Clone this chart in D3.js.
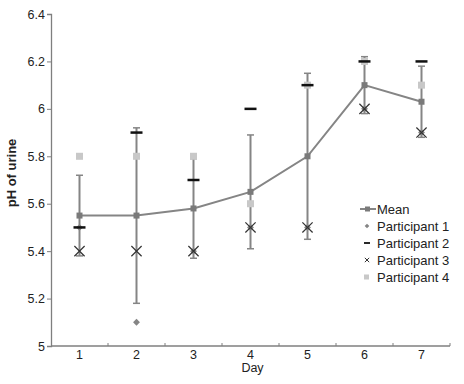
<!DOCTYPE html>
<html>
<head>
<meta charset="utf-8">
<script src="https://cdn.jsdelivr.net/npm/d3@7"></script>
<style>
  body { margin: 0; background: #fff; }
  text { font-family: "Liberation Sans", Arial, sans-serif; }
</style>
</head>
<body>
<div class="chart"></div>
<script>
// values
const days = [1, 2, 3, 4, 5, 6, 7];
const meanPH = [5.55, 5.55, 5.58, 5.65, 5.80, 6.10, 6.03];
const errLow = [5.38, 5.18, 5.37, 5.41, 5.45, 5.98, 5.88];
const errHigh = [5.72, 5.92, 5.79, 5.89, 6.15, 6.22, 6.18];
const p1 = [5.5, 5.1, 5.4, 5.5, 5.5, 6.0, 5.9];
const p2 = [5.5, 5.9, 5.7, 6.0, 6.1, 6.2, 6.2];
const p3 = [5.4, 5.4, 5.4, 5.5, 5.5, 6.0, 5.9];
const p4 = [5.8, 5.8, 5.8, 5.6, 6.1, 6.2, 6.1];
const yTicks = [5, 5.2, 5.4, 5.6, 5.8, 6, 6.2, 6.4];
const legendLabels = ["Mean", "Participant 1", "Participant 2", "Participant 3", "Participant 4"];

const width = 464, height = 384;
const margin = {top: 14, right: 14, bottom: 38, left: 51};

const svg = d3.select(".chart").append("svg")
    .attr("width", width)
    .attr("height", height);

const x = d3.scaleBand()
    .domain(days)
    .range([margin.left, width - margin.right]);

const y = d3.scaleLinear()
    .domain([5, 6.4])
    .range([height - margin.bottom, margin.top]);

const cx = d => x(d) + x.bandwidth() / 2;
const axisColor = "#7f7f7f";
const lineColor = "#858585";

// y axis
const yAxis = svg.append("g")
    .attr("transform", `translate(${margin.left},0)`)
    .call(d3.axisLeft(y).tickValues(yTicks).tickSize(4).tickFormat(d3.format("~g")));
yAxis.select(".domain").attr("stroke", axisColor).attr("stroke-width", 1.3);
yAxis.selectAll(".tick line").attr("stroke", axisColor);
yAxis.selectAll(".tick text").attr("font-size", 12.5).attr("fill", "#222").attr("x", -6);

// x axis, ticks between categories pointing up
const xAxisG = svg.append("g")
    .attr("transform", `translate(0,${height - margin.bottom})`);
xAxisG.append("line")
    .attr("x1", margin.left).attr("x2", width - margin.right)
    .attr("stroke", axisColor).attr("stroke-width", 1.3);
xAxisG.selectAll(".sep")
    .data(days)
    .join("line")
    .attr("class", "sep")
    .attr("x1", d => x(d) + x.bandwidth())
    .attr("x2", d => x(d) + x.bandwidth())
    .attr("y1", 0).attr("y2", -3)
    .attr("stroke", axisColor);
xAxisG.selectAll(".lab")
    .data(days)
    .join("text")
    .attr("class", "lab")
    .attr("x", d => cx(d))
    .attr("y", 13)
    .attr("text-anchor", "middle")
    .attr("font-size", 12.5)
    .attr("fill", "#222")
    .text(d => d);

// axis titles
svg.append("text")
    .attr("x", (margin.left + width - margin.right) / 2 + 2)
    .attr("y", 372)
    .attr("text-anchor", "middle")
    .attr("font-size", 12.5)
    .attr("fill", "#222")
    .text("Day");

svg.append("text")
    .attr("transform", "translate(16,173) rotate(-90)")
    .attr("text-anchor", "middle")
    .attr("font-size", 13)
    .attr("font-weight", "bold")
    .attr("fill", "#222")
    .text("pH of urine");

// error bars
const eb = svg.append("g");
days.forEach((d, i) => {
    eb.append("line")
        .attr("x1", cx(d)).attr("x2", cx(d))
        .attr("y1", y(errLow[i])).attr("y2", y(errHigh[i]))
        .attr("stroke", lineColor).attr("stroke-width", 2);
    [errLow[i], errHigh[i]].forEach(v => {
        eb.append("line")
            .attr("x1", cx(d) - 3.5).attr("x2", cx(d) + 3.5)
            .attr("y1", y(v)).attr("y2", y(v))
            .attr("stroke", lineColor).attr("stroke-width", 1.5);
    });
});

// participant 4: light squares
svg.append("g").selectAll("rect")
    .data(days)
    .join("rect")
    .attr("x", (d, i) => cx(d) - 3.5)
    .attr("y", (d, i) => y(p4[i]) - 3.5)
    .attr("width", 7).attr("height", 7)
    .attr("fill", "#c8c8c8");

// mean line
const line = d3.line()
    .x((d, i) => cx(days[i]))
    .y(d => y(d));
svg.append("path")
    .datum(meanPH)
    .attr("d", line)
    .attr("fill", "none")
    .attr("stroke", lineColor)
    .attr("stroke-width", 2);
svg.append("g").selectAll("rect")
    .data(days)
    .join("rect")
    .attr("x", d => cx(d) - 3)
    .attr("y", (d, i) => y(meanPH[i]) - 3)
    .attr("width", 6).attr("height", 6)
    .attr("fill", "#7a7a7a");

// participant 1: diamonds
svg.append("g").selectAll("path")
    .data(days)
    .join("path")
    .attr("d", d3.symbol(d3.symbolDiamond2, 30))
    .attr("transform", (d, i) => `translate(${cx(d)},${y(p1[i])})`)
    .attr("fill", "#858585");

// participant 3: crosses
svg.append("g").selectAll("path")
    .data(days)
    .join("path")
    .attr("d", d3.symbol(d3.symbolTimes, 70))
    .attr("transform", (d, i) => `translate(${cx(d)},${y(p3[i])})`)
    .attr("fill", "none")
    .attr("stroke", "#333")
    .attr("stroke-width", 1.2);

// participant 2: black dashes
svg.append("g").selectAll("line")
    .data(days)
    .join("line")
    .attr("x1", d => cx(d) - 6).attr("x2", d => cx(d) + 6)
    .attr("y1", (d, i) => y(p2[i])).attr("y2", (d, i) => y(p2[i]))
    .attr("stroke", "#111")
    .attr("stroke-width", 2.5);

// legend
const legend = svg.append("g").attr("transform", "translate(362,209)");
const rowH = 17;
legendLabels.forEach((lab, i) => {
    const g = legend.append("g").attr("transform", `translate(0,${i * rowH})`);
    if (i === 0) {
        g.append("line").attr("x1", -2).attr("x2", 14).attr("stroke", lineColor).attr("stroke-width", 2);
        g.append("rect").attr("x", 3).attr("y", -2.5).attr("width", 5).attr("height", 5).attr("fill", "#7a7a7a");
    } else if (i === 1) {
        g.append("path").attr("d", d3.symbol(d3.symbolDiamond2, 14)).attr("transform", "translate(5,0)").attr("fill", "#858585");
    } else if (i === 2) {
        g.append("line").attr("x1", 2).attr("x2", 8).attr("stroke", "#111").attr("stroke-width", 1.8);
    } else if (i === 3) {
        g.append("path").attr("d", d3.symbol(d3.symbolTimes, 14)).attr("transform", "translate(5,0)")
            .attr("fill", "none").attr("stroke", "#333").attr("stroke-width", 1);
    } else {
        g.append("rect").attr("x", 2).attr("y", -2.5).attr("width", 5).attr("height", 5).attr("fill", "#c8c8c8");
    }
    g.append("text")
        .attr("x", 15)
        .attr("y", 4.5)
        .attr("font-size", 13)
        .attr("fill", "#222")
        .text(lab);
});
</script>
</body>
</html>
